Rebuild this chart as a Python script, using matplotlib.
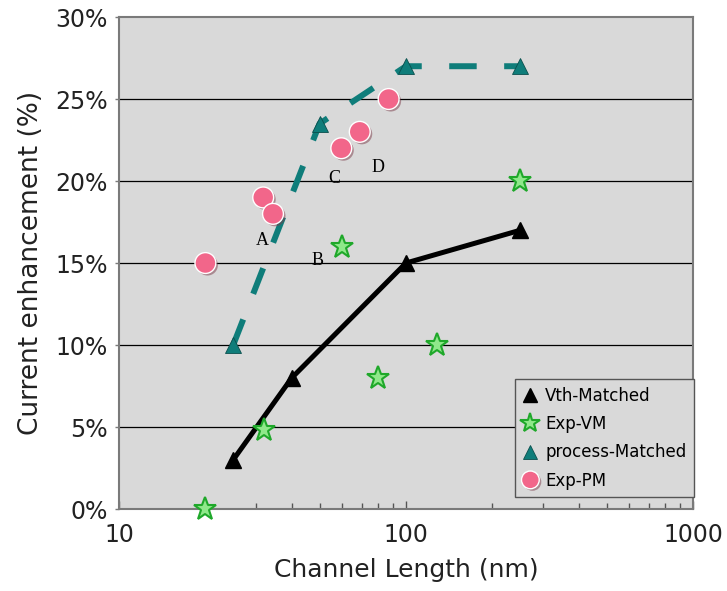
import matplotlib
matplotlib.use("Agg")
import matplotlib.pyplot as plt
import matplotlib.patheffects as pe
from matplotlib.ticker import FixedLocator, FuncFormatter, LogLocator, NullFormatter

# channel length (nm) vs current enhancement (%)
vth_len = [25, 40, 100, 250]
vth_enh = [3, 8, 15, 17]

proc_len = [25, 50, 100, 250]
proc_enh = [10, 23.5, 27, 27]

exp_vm_len = [20, 32, 60, 80, 128, 250]
exp_vm_enh = [0, 4.8, 16, 8, 10, 20]

exp_pm_len = [20, 31.8, 34.4, 59.5, 69, 87]
exp_pm_enh = [15, 19, 18, 22, 23, 25]

point_tags = ["A", "B", "C", "D"]
tag_len = [31.5, 49, 56.4, 79.6]
tag_enh = [16.1, 14.9, 19.9, 20.55]

teal = "#0f7d7a"
pink = "#f2668a"

fig = plt.figure(figsize=(7.27, 5.91), dpi=100)
ax = fig.add_axes([0.1637, 0.1387, 0.7895, 0.8325])
ax.set_facecolor("#d9d9d9")

ax.set_xscale("log")
ax.set_xlim(10, 1000)
ax.set_ylim(0, 30)

# horizontal grid
for y in range(5, 30, 5):
    ax.axhline(y, color="black", lw=0.9, zorder=1)

# simulation curves
ax.plot(vth_len, vth_enh, color="black", lw=3.6, zorder=3)
ax.plot(proc_len, proc_enh, color=teal, lw=4.3, ls=(0, (4.6, 4.6)), zorder=3)

ax.plot(vth_len, vth_enh, ls="none", marker="^", ms=12, color="black",
        label="Vth-Matched", zorder=4)
ax.plot(exp_vm_len, exp_vm_enh, ls="none", marker="*", ms=17,
        mfc="#8fe88a", mec="#1fa82a", mew=1.5, label="Exp-VM", zorder=5,
        clip_on=False)
ax.plot(proc_len, proc_enh, ls="none", marker="^", ms=12, color=teal,
        mec="#0a4f4d", mew=0.6, label="process-Matched", zorder=4)
ax.plot(exp_pm_len, exp_pm_enh, ls="none", marker="o", ms=15, mfc=pink,
        mec="white", mew=1.0, label="Exp-PM", zorder=5,
        path_effects=[pe.SimplePatchShadow(offset=(1.5, -1.5),
                                           shadow_rgbFace="#7a3a48", alpha=0.5),
                      pe.Normal()])

for tag, x, y in zip(point_tags, tag_len, tag_enh):
    ax.text(x, y, tag, family="Liberation Serif", fontsize=13,
            ha="center", va="baseline", zorder=6)

# axes styling
for s in ax.spines.values():
    s.set_color("#7a7a7a")
    s.set_linewidth(1.5)

ax.yaxis.set_major_locator(FixedLocator(range(0, 31, 5)))
ax.yaxis.set_major_formatter(FuncFormatter(lambda v, p: "%d%%" % v))
ax.xaxis.set_major_locator(LogLocator(base=10))
ax.xaxis.set_minor_locator(LogLocator(base=10, subs=range(2, 10)))
ax.xaxis.set_minor_formatter(NullFormatter())
ax.xaxis.set_major_formatter(FuncFormatter(lambda v, p: "%d" % v))

ax.tick_params(axis="x", which="major", direction="in", length=6, width=1,
               color="#555555", labelsize=17, pad=10, labelcolor="#222222")
ax.tick_params(axis="x", which="minor", direction="in", length=4, width=1,
               color="#555555")
ax.tick_params(axis="y", which="major", direction="out", length=3, width=1,
               color="#7a7a7a", labelsize=17, pad=5, labelcolor="#222222")

ax.set_xlabel("Channel Length (nm)", fontsize=18, labelpad=8, color="#222222")
ax.set_ylabel("Current enhancement (%)", fontsize=19, labelpad=8,
              color="#222222")

leg = ax.legend(loc="lower right", bbox_to_anchor=(1.002, 0.024),
                borderaxespad=0, fontsize=12, frameon=True, fancybox=False,
                facecolor="#d9d9d9", edgecolor="#555555", framealpha=1,
                handlelength=1.0, handletextpad=0.4, labelspacing=0.62,
                borderpad=0.45, markerscale=0.85)
leg.get_frame().set_linewidth(1.0)
leg.set_zorder(7)

fig.savefig("out.png", dpi=100)
